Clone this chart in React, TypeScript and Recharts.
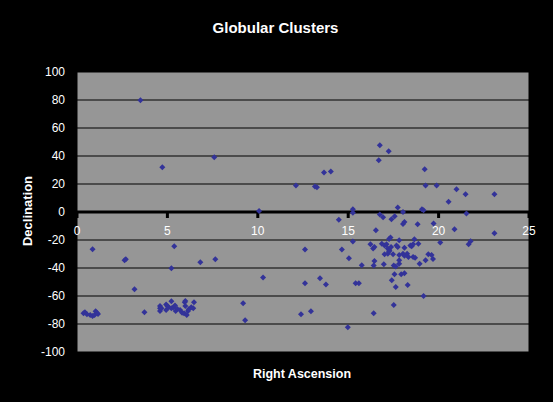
import React from "react";
import {
  ScatterChart,
  Scatter,
  XAxis,
  YAxis,
  CartesianGrid,
  ReferenceLine,
  ReferenceDot,
} from "recharts";

const raValues: number[] = [
  0.36, 0.44, 0.55, 0.73, 0.86, 0.97, 1.03, 1.1, 1.16,
  0.86, 2.63, 2.7, 3.18, 3.51, 3.73, 4.72, 5.38, 5.22,
  4.59, 4.59, 4.59, 4.67, 4.93, 4.93, 5.0, 5.07, 5.22, 5.22, 5.33, 5.42, 5.46,
  5.55, 5.7, 5.81, 5.92, 5.96, 5.99, 5.99, 6.07, 6.14, 6.18, 6.32, 6.43, 6.47,
  6.82, 7.65, 7.59, 9.19, 9.3, 10.07, 10.29,
  12.11, 13.16, 13.27, 13.66, 14.04,
  12.61, 14.65, 12.61, 13.44, 13.77, 12.39, 12.94,
  14.48, 15.26, 15.26,
  15.26, 15.04, 15.75, 15.41, 15.59, 14.98, 16.41,
  16.75, 17.24, 16.69,
  17.74, 18.03, 19.08, 19.17,
  16.75, 16.93, 17.39, 17.57,
  18.03, 18.11, 18.84, 19.72,
  16.53,
  20.09, 18.66, 17.34, 17.26,
  16.23, 16.38, 16.45,
  16.86, 17.01, 17.01, 17.12, 17.19, 17.19, 17.28, 17.37, 17.26,
  17.48, 17.67, 17.74, 17.82,
  17.82, 18.03, 18.11, 18.26, 18.33, 18.11,
  18.44, 18.51, 18.59, 18.59, 18.7, 18.88, 18.95, 19.28,
  19.43, 19.61, 19.69,
  17.82, 17.82, 17.52, 17.63, 16.97, 16.45, 16.41,
  17.56, 17.93, 18.11, 17.41, 17.63, 18.29,
  19.17, 17.52,
  20.55, 21.54, 20.88, 23.09, 21.66, 21.77,
  19.23, 19.28, 19.89, 20.99, 21.49, 23.09,
];

const decValues: number[] = [
  -72.4, -71.6, -73.1, -73.6, -74.3, -73.6, -70.9, -71.9, -72.9,
  -26.6, -34.5, -33.8, -55.2, 79.8, -71.6, 31.9, -24.5, -40.2,
  -67.1, -68.8, -70.7, -68.8, -66.0, -70.0, -67.1, -68.1, -63.8, -68.8, -68.1, -66.7, -70.7,
  -69.3, -70.0, -71.9, -72.4, -64.5, -63.6, -67.1, -73.6, -70.7, -69.5, -68.1, -68.8, -64.5,
  -35.9, -33.8, 39.1, -65.2, -77.4, 0.7, -46.7,
  19.0, 18.3, 17.6, 28.3, 29.0,
  -26.7, -26.7, -50.9, -47.4, -51.7, -73.1, -70.9,
  -5.5, 1.9, -0.5,
  -21.0, -33.1, -38.1, -50.9, -50.9, -82.4, -72.4,
  47.6, 43.4, 36.9,
  3.3, 0.0, 1.9, 1.2,
  -1.7, -3.8, -5.2, -3.1,
  -8.6, -7.1, -8.8, -8.3,
  -13.1,
  -21.7, -19.5, -18.3, -19.3,
  -23.1, -26.0, -25.0,
  -22.6, -24.0, -30.2, -23.1, -26.0, -29.8, -27.4, -25.0, -28.3,
  -30.2, -24.0, -25.0, -20.2,
  -30.7, -29.8, -31.2, -29.8, -32.1, -25.5,
  -24.0, -24.5, -23.1, -32.1, -32.6, -22.6, -36.9, -34.5,
  -30.2, -30.7, -33.6,
  -34.5, -36.9, -38.3, -39.0, -37.4, -35.0, -38.3,
  -44.5, -44.5, -43.8, -48.8, -53.6, -52.1,
  -60.0, -66.5,
  7.4, -1.0, -12.4, -15.2, -23.1, -20.9,
  30.5, 19.0, 19.0, 16.2, 12.6, 12.6,
];

const xTicks: number[] = [0, 5, 10, 15, 20, 25];
const yTicks: number[] = [-100, -80, -60, -40, -20, 0, 20, 40, 60, 80, 100];

const data = raValues.map((ra, i) => ({ ra, dec: decValues[i] }));

const POINT_COLOR = "#333399";
const FONT = "Arial, 'Liberation Sans', sans-serif";

const Diamond = (props: any) => {
  const { cx, cy } = props;
  if (cx == null || cy == null) return null;
  const r = 3;
  return (
    <polygon
      points={`${cx},${cy - r} ${cx + r},${cy} ${cx},${cy + r} ${cx - r},${cy}`}
      fill={POINT_COLOR}
    />
  );
};

const makeTickShape = (label: number) => (props: any) => {
  const { cx, cy } = props;
  if (cx == null || cy == null) return null;
  return (
    <g>
      <rect x={cx - 1.5} y={cy} width={3} height={6} fill="#000" />
      <text
        x={cx}
        y={cy + 23}
        textAnchor="middle"
        fill="#fff"
        fontSize={12}
        fontFamily={FONT}
      >
        {label}
      </text>
    </g>
  );
};

export default function App() {
  return (
    <div
      style={{
        position: "absolute",
        left: 0,
        top: 0,
        width: 553,
        height: 402,
        background: "#000",
        overflow: "hidden",
      }}
    >
      <ScatterChart
        width={553}
        height={402}
        margin={{ top: 72, right: 24, bottom: 50, left: 0 }}
      >
        <CartesianGrid
          stroke="#000"
          strokeWidth={1}
          fill="#969696"
          fillOpacity={1}
        />
        <XAxis
          type="number"
          dataKey="ra"
          domain={[0, 25]}
          ticks={xTicks}
          height={0}
          tick={false}
          axisLine={false}
          tickLine={false}
        />
        <YAxis
          type="number"
          dataKey="dec"
          domain={[-100, 100]}
          ticks={yTicks}
          width={77}
          axisLine={false}
          tickLine={false}
          tickMargin={6}
          interval={0}
          tick={{ fill: "#fff", fontSize: 12, fontFamily: FONT }}
        />
        <ReferenceLine y={0} stroke="#000" strokeWidth={3} />
        {xTicks.map((t) => (
          <ReferenceDot
            key={t}
            x={t}
            y={0}
            r={0}
            ifOverflow="visible"
            shape={makeTickShape(t)}
          />
        ))}
        <Scatter
          data={data}
          shape={<Diamond />}
          isAnimationActive={false}
        />
      </ScatterChart>
      <div
        style={{
          position: "absolute",
          left: 0,
          width: 553,
          top: 20,
          textAlign: "center",
          color: "#fff",
          fontFamily: FONT,
          fontWeight: "bold",
          fontSize: 15,
          lineHeight: "15px",
          paddingLeft: 0,
        }}
      >
        <span style={{ position: "relative", left: -1 }}>Globular Clusters</span>
      </div>
      <div
        style={{
          position: "absolute",
          left: 202,
          width: 200,
          top: 368,
          textAlign: "center",
          color: "#fff",
          fontFamily: FONT,
          fontWeight: "bold",
          fontSize: 12.5,
          lineHeight: "12px",
        }}
      >
        Right Ascension
      </div>
      <div
        style={{
          position: "absolute",
          left: 27,
          top: 210.5,
          transform: "translate(-50%, -50%) rotate(-90deg)",
          color: "#fff",
          fontFamily: FONT,
          fontWeight: "bold",
          fontSize: 13,
          lineHeight: "13px",
          whiteSpace: "nowrap",
        }}
      >
        Declination
      </div>
    </div>
  );
}
